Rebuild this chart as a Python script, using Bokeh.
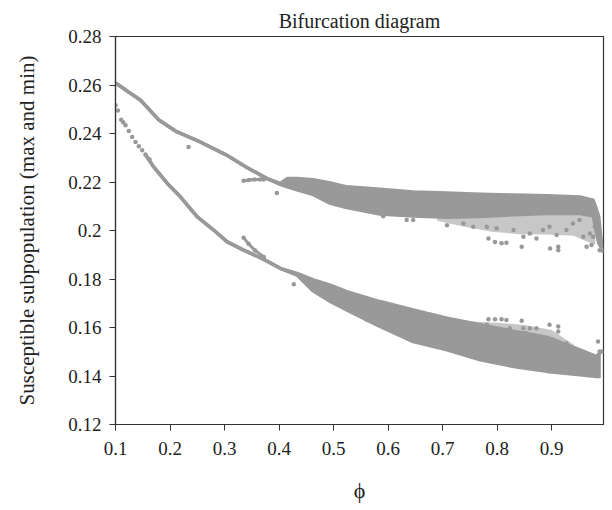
from bokeh.plotting import figure
from bokeh.models import Range1d, FixedTicker
from bokeh.embed import file_html
from bokeh.resources import INLINE

# ---- data ----
# upper branch (maxima): thin curve then a dense band
max_phi = [0.100, 0.146, 0.179, 0.210, 0.250, 0.302, 0.341, 0.378, 0.402, 0.415, 0.433, 0.463,
           0.494, 0.524, 0.585, 0.646, 0.708, 0.769, 0.830, 0.891, 0.952, 0.976, 0.986, 0.992]
max_top = [0.2608, 0.2537, 0.2457, 0.2410, 0.2371, 0.2313, 0.2260, 0.2214, 0.2194, 0.2214, 0.2214, 0.2209,
           0.2196, 0.2180, 0.2170, 0.2159, 0.2155, 0.2150, 0.2146, 0.2143, 0.2138, 0.2125, 0.2060, 0.1930]
max_bot = [0.2608, 0.2537, 0.2457, 0.2410, 0.2371, 0.2313, 0.2260, 0.2214, 0.2190, 0.2180, 0.2168, 0.2148,
           0.2112, 0.2095, 0.2068, 0.2060, 0.2055, 0.2058, 0.2065, 0.2070, 0.2070, 0.2060, 0.1950, 0.1925]
# sparse zone under the upper band
max_sparse_phi = [0.690, 0.740, 0.790, 0.840, 0.890, 0.940, 0.980]
max_sparse_top = [0.2056, 0.2056, 0.2060, 0.2066, 0.2070, 0.2070, 0.2060]
max_sparse_bot = [0.2040, 0.2015, 0.1995, 0.1985, 0.1983, 0.1978, 0.1940]

# lower branch (minima)
min_phi = [0.155, 0.170, 0.195, 0.219, 0.250, 0.280, 0.305, 0.335, 0.372, 0.402, 0.433, 0.463,
           0.494, 0.524, 0.585, 0.646, 0.708, 0.769, 0.830, 0.891, 0.952, 0.982, 0.990]
min_top = [0.2313, 0.2262, 0.2194, 0.2139, 0.2056, 0.2002, 0.1953, 0.1919, 0.1881, 0.1844, 0.1823, 0.1796,
           0.1775, 0.1748, 0.1707, 0.1672, 0.1638, 0.1611, 0.1585, 0.1560, 0.1508, 0.1480, 0.1500]
min_bot = [0.2313, 0.2262, 0.2194, 0.2139, 0.2056, 0.2002, 0.1953, 0.1919, 0.1881, 0.1844, 0.1816, 0.1750,
           0.1707, 0.1672, 0.1604, 0.1542, 0.1508, 0.1467, 0.1439, 0.1419, 0.1405, 0.1398, 0.1398]
# sparse zone above the lower band
min_sparse_phi = [0.700, 0.750, 0.800, 0.850, 0.900, 0.940]
min_sparse_top = [0.1645, 0.1625, 0.1620, 0.1610, 0.1590, 0.1530]
min_sparse_bot = [0.1640, 0.1615, 0.1598, 0.1578, 0.1556, 0.1515]

# separate dots at the start of the lower curve
start_phi = [0.1000, 0.1043, 0.1104, 0.1140, 0.1183, 0.1244, 0.1306, 0.1367, 0.1428, 0.1489, 0.1549, 0.1623]
start_s = [0.2516, 0.2495, 0.2457, 0.2446, 0.2434, 0.2410, 0.2386, 0.2365, 0.2347, 0.2331, 0.2313, 0.2294]

# short side branches
side_up_phi = [0.335, 0.345, 0.355, 0.365, 0.372]
side_up_s = [0.2205, 0.2208, 0.2210, 0.2210, 0.2210]
side_lo_phi = [0.335, 0.344, 0.356, 0.372]
side_lo_s = [0.1970, 0.1945, 0.1918, 0.1891]

# scattered points
scat_phi = [0.234, 0.396, 0.784, 0.796, 0.808, 0.817, 0.845, 0.897, 0.912, 0.912, 0.964, 0.973, 0.976,
            0.988, 0.994, 0.781, 0.799, 0.830, 0.848, 0.860, 0.872, 0.884, 0.896, 0.909, 0.927, 0.939,
            0.951, 0.958, 0.970, 0.979, 0.708, 0.738, 0.756, 0.646, 0.591, 0.634,
            0.427, 0.512, 0.543, 0.561, 0.677, 0.732, 0.784, 0.796, 0.808, 0.817, 0.845, 0.781, 0.823,
            0.848, 0.860, 0.872, 0.854, 0.866, 0.896, 0.912, 0.912, 0.902, 0.927, 0.939, 0.985, 0.988, 0.993]
scat_s = [0.2344, 0.2155, 0.1967, 0.1953, 0.1947, 0.1949, 0.1933, 0.1926, 0.1933, 0.1919, 0.1933, 0.1940, 0.1974,
          0.1919, 0.1916, 0.2015, 0.2009, 0.2002, 0.1974, 0.1988, 0.1967, 0.2002, 0.2015, 0.1981, 0.2002, 0.2029,
          0.2043, 0.1974, 0.1988, 0.2015, 0.2022, 0.2029, 0.2015, 0.2043, 0.2059, 0.2043,
          0.1778, 0.1700, 0.1666, 0.1632, 0.1532, 0.1513, 0.1634, 0.1634, 0.1634, 0.1631, 0.1628, 0.1611, 0.1597,
          0.1597, 0.1597, 0.1597, 0.1576, 0.1569, 0.1611, 0.1604, 0.1584, 0.1549, 0.1535, 0.1508, 0.1542, 0.1501, 0.1501]

x_ticks = [0.1, 0.2, 0.3, 0.4, 0.5, 0.6, 0.7, 0.8, 0.9]
x_labels = ["0.1", "0.2", "0.3", "0.4", "0.5", "0.6", "0.7", "0.8", "0.9"]
y_ticks = [0.12, 0.14, 0.16, 0.18, 0.20, 0.22, 0.24, 0.26, 0.28]
y_labels = ["0.12", "0.14", "0.16", "0.18", "0.2", "0.22", "0.24", "0.26", "0.28"]

GRAY = "#999999"
FONT = "Liberation Serif"

p = figure(width=612, height=510, output_backend="svg", toolbar_location=None,
           x_range=Range1d(0.1, 0.995), y_range=Range1d(0.12, 0.28),
           min_border_left=115, min_border_right=9, min_border_top=36, min_border_bottom=86,
           title="Bifurcation diagram")

p.title.align = "center"
p.title.text_font = FONT
p.title.text_font_style = "normal"
p.title.text_font_size = "20px"
p.title.text_color = "#222222"

p.xgrid.visible = False
p.ygrid.visible = False
p.outline_line_color = "#333333"
p.outline_line_width = 1.2
p.background_fill_color = "white"
p.border_fill_color = "white"

for ax in (p.xaxis[0], p.yaxis[0]):
    ax.axis_line_color = "#333333"
    ax.axis_line_width = 1.2
    ax.major_tick_line_color = "#333333"
    ax.major_tick_in = 0
    ax.major_tick_out = 6
    ax.minor_tick_line_color = None
    ax.major_label_text_font = FONT
    ax.major_label_text_font_size = "19px"
    ax.major_label_text_color = "#222222"
    ax.axis_label_text_font = FONT
    ax.axis_label_text_font_style = "normal"
    ax.axis_label_text_color = "#222222"

p.xaxis.ticker = FixedTicker(ticks=x_ticks)
p.xaxis.major_label_overrides = dict(zip(x_ticks, x_labels))
p.yaxis.ticker = FixedTicker(ticks=y_ticks)
p.yaxis.major_label_overrides = dict(zip(y_ticks, y_labels))

p.xaxis.axis_label = "ϕ"
p.xaxis.axis_label_text_font_size = "22px"
p.xaxis.axis_label_standoff = 20
p.xaxis.major_label_standoff = 11
p.yaxis.axis_label = "Susceptible subpopulation (max and min)"
p.yaxis.axis_label_text_font_size = "21px"
p.yaxis.axis_label_standoff = 26
p.yaxis.major_label_standoff = 8

# dense bands
p.varea(x=max_phi, y1=max_bot, y2=max_top, fill_color=GRAY)
p.line(max_phi, max_top, line_color=GRAY, line_width=3.5, line_join="round")
p.line(max_phi, max_bot, line_color=GRAY, line_width=3.5, line_join="round")
p.varea(x=min_phi, y1=min_bot, y2=min_top, fill_color=GRAY)
p.line(min_phi, min_top, line_color=GRAY, line_width=3.5, line_join="round")
p.line(min_phi, min_bot, line_color=GRAY, line_width=3.5, line_join="round")

# sparse zones (scattered dots, lighter on average)
p.varea(x=max_sparse_phi, y1=max_sparse_bot, y2=max_sparse_top, fill_color=GRAY, fill_alpha=0.55)
p.varea(x=min_sparse_phi, y1=min_sparse_bot, y2=min_sparse_top, fill_color=GRAY, fill_alpha=0.55)

p.line(side_up_phi, side_up_s, line_color=GRAY, line_width=3)
p.line(side_lo_phi, side_lo_s, line_color=GRAY, line_width=3)

p.scatter(start_phi, start_s, size=4.5, fill_color=GRAY, line_color=None)
p.scatter(side_up_phi, side_up_s, size=4.5, fill_color=GRAY, line_color=None)
p.scatter(side_lo_phi, side_lo_s, size=4.5, fill_color=GRAY, line_color=None)
p.scatter(scat_phi, scat_s, size=4.5, fill_color=GRAY, line_color=None)

open("out.html", "w").write(file_html(p, INLINE))
